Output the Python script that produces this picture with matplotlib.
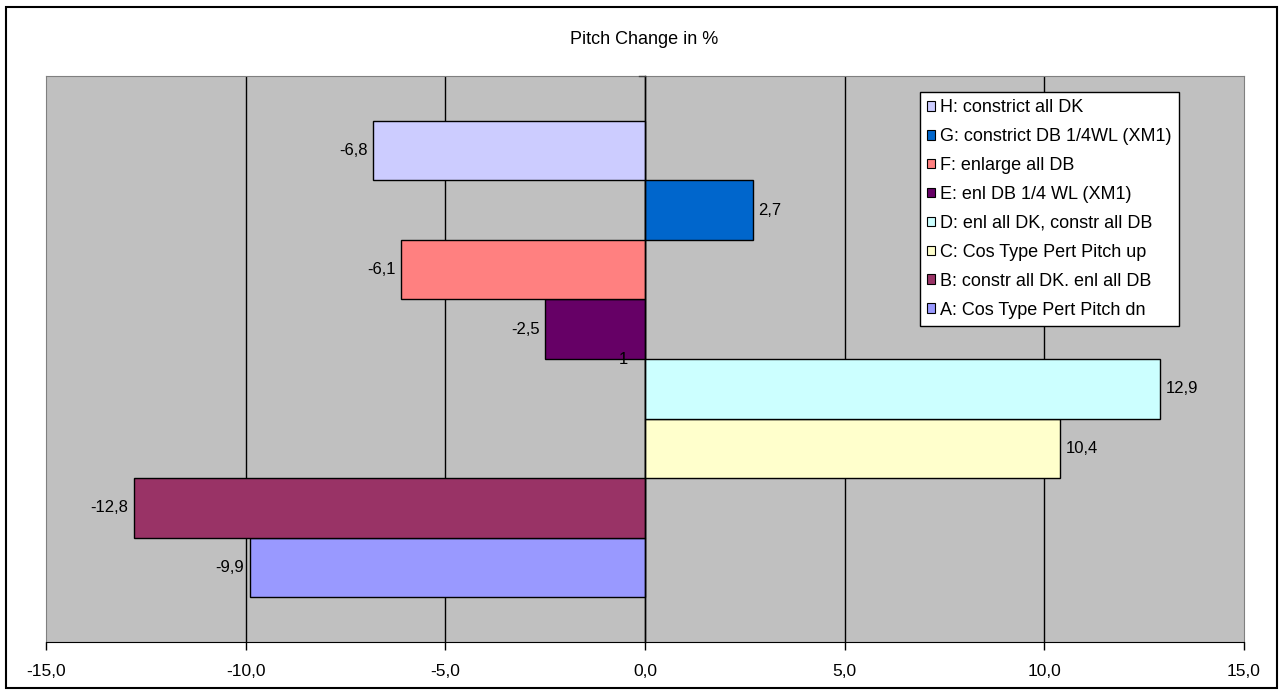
import matplotlib
matplotlib.use("Agg")
import matplotlib.pyplot as plt
from matplotlib.patches import Patch, Rectangle
from matplotlib.ticker import FuncFormatter

plt.rcParams['font.family'] = ['Liberation Sans', 'DejaVu Sans']

# data, bottom to top as drawn
series = ["A: Cos Type Pert Pitch dn", "B: constr all DK. enl all DB",
          "C: Cos Type Pert Pitch up", "D: enl all DK, constr all DB",
          "E: enl DB 1/4 WL (XM1)", "F: enlarge all DB",
          "G: constrict DB 1/4WL (XM1)", "H: constrict all DK"]
values = [-9.9, -12.8, 10.4, 12.9, -2.5, -6.1, 2.7, -6.8]
colors = ["#9999FF", "#993366", "#FFFFCC", "#CCFFFF",
          "#660066", "#FF8080", "#0066CC", "#CCCCFF"]
category = "1"
xticks = [-15, -10, -5, 0, 5, 10, 15]

fig = plt.figure(figsize=(12.79, 6.94), dpi=100)
ax = fig.add_axes([46/1279, 52/694, 1198/1279, 566/694])
ax.set_facecolor("#C0C0C0")

n = len(values)
h = 1.0 / (n + 1.5)
for i, (v, c) in enumerate(zip(values, colors)):
    y = (i - (n - 1) / 2) * h
    ax.barh(y, v, height=h, color=c, edgecolor="black", linewidth=1, zorder=3)
    lab = ("%.1f" % v).replace(".", ",")
    if v >= 0:
        ax.annotate(lab, (v, y), xytext=(4, 0), textcoords="offset points",
                    ha="left", va="center", fontsize=12)
    else:
        ax.annotate(lab, (v, y), xytext=(-4, 0), textcoords="offset points",
                    ha="right", va="center", fontsize=12)

ax.set_xlim(-15, 15)
ax.set_ylim(-0.5, 0.5)
ax.set_xticks(xticks)
ax.xaxis.set_major_formatter(FuncFormatter(lambda x, p: ("%.1f" % x).replace(".", ",")))
ax.tick_params(axis="x", direction="out", length=6, width=1, colors="black",
               labelsize=12.5, pad=10)
ax.set_yticks([])
for x in xticks[1:-1]:
    ax.axvline(x, color="black", lw=1, zorder=1)
ax.plot([0, 0], [-0.5, 0.5], color="black", lw=1, zorder=4, clip_on=False)
ax.plot([-0.15, 0], [0.5, 0.5], color="#404040", lw=1, zorder=4, clip_on=False)
ax.annotate(category, (0, 0), xytext=(-12, 0), textcoords="offset points",
            ha="right", va="center", fontsize=12, zorder=5)

for s in ["left", "top", "right"]:
    ax.spines[s].set_color("#808080")
ax.spines["bottom"].set_color("black")

fig.text(644/1279, 1 - 39/694, "Pitch Change in %", ha="center", va="center", fontsize=13)

handles = [Patch(facecolor=c, edgecolor="black", linewidth=0.8) for c in colors]
leg = fig.legend(handles[::-1], series[::-1], loc="upper left",
                 bbox_to_anchor=(920/1279, 1 - 92/694), fontsize=13,
                 frameon=True, fancybox=False, edgecolor="black", framealpha=1,
                 facecolor="white", handlelength=0.45, handleheight=0.45,
                 handletextpad=0.25, labelspacing=0.66, borderpad=0.4,
                 borderaxespad=0)
leg.get_frame().set_linewidth(1)

fig.patches.append(Rectangle((6/1279, 6/694), 1271/1279, 681/694, transform=fig.transFigure,
                             fill=False, edgecolor="black", lw=1.5))

fig.savefig("out.png", dpi=100, facecolor="white")
